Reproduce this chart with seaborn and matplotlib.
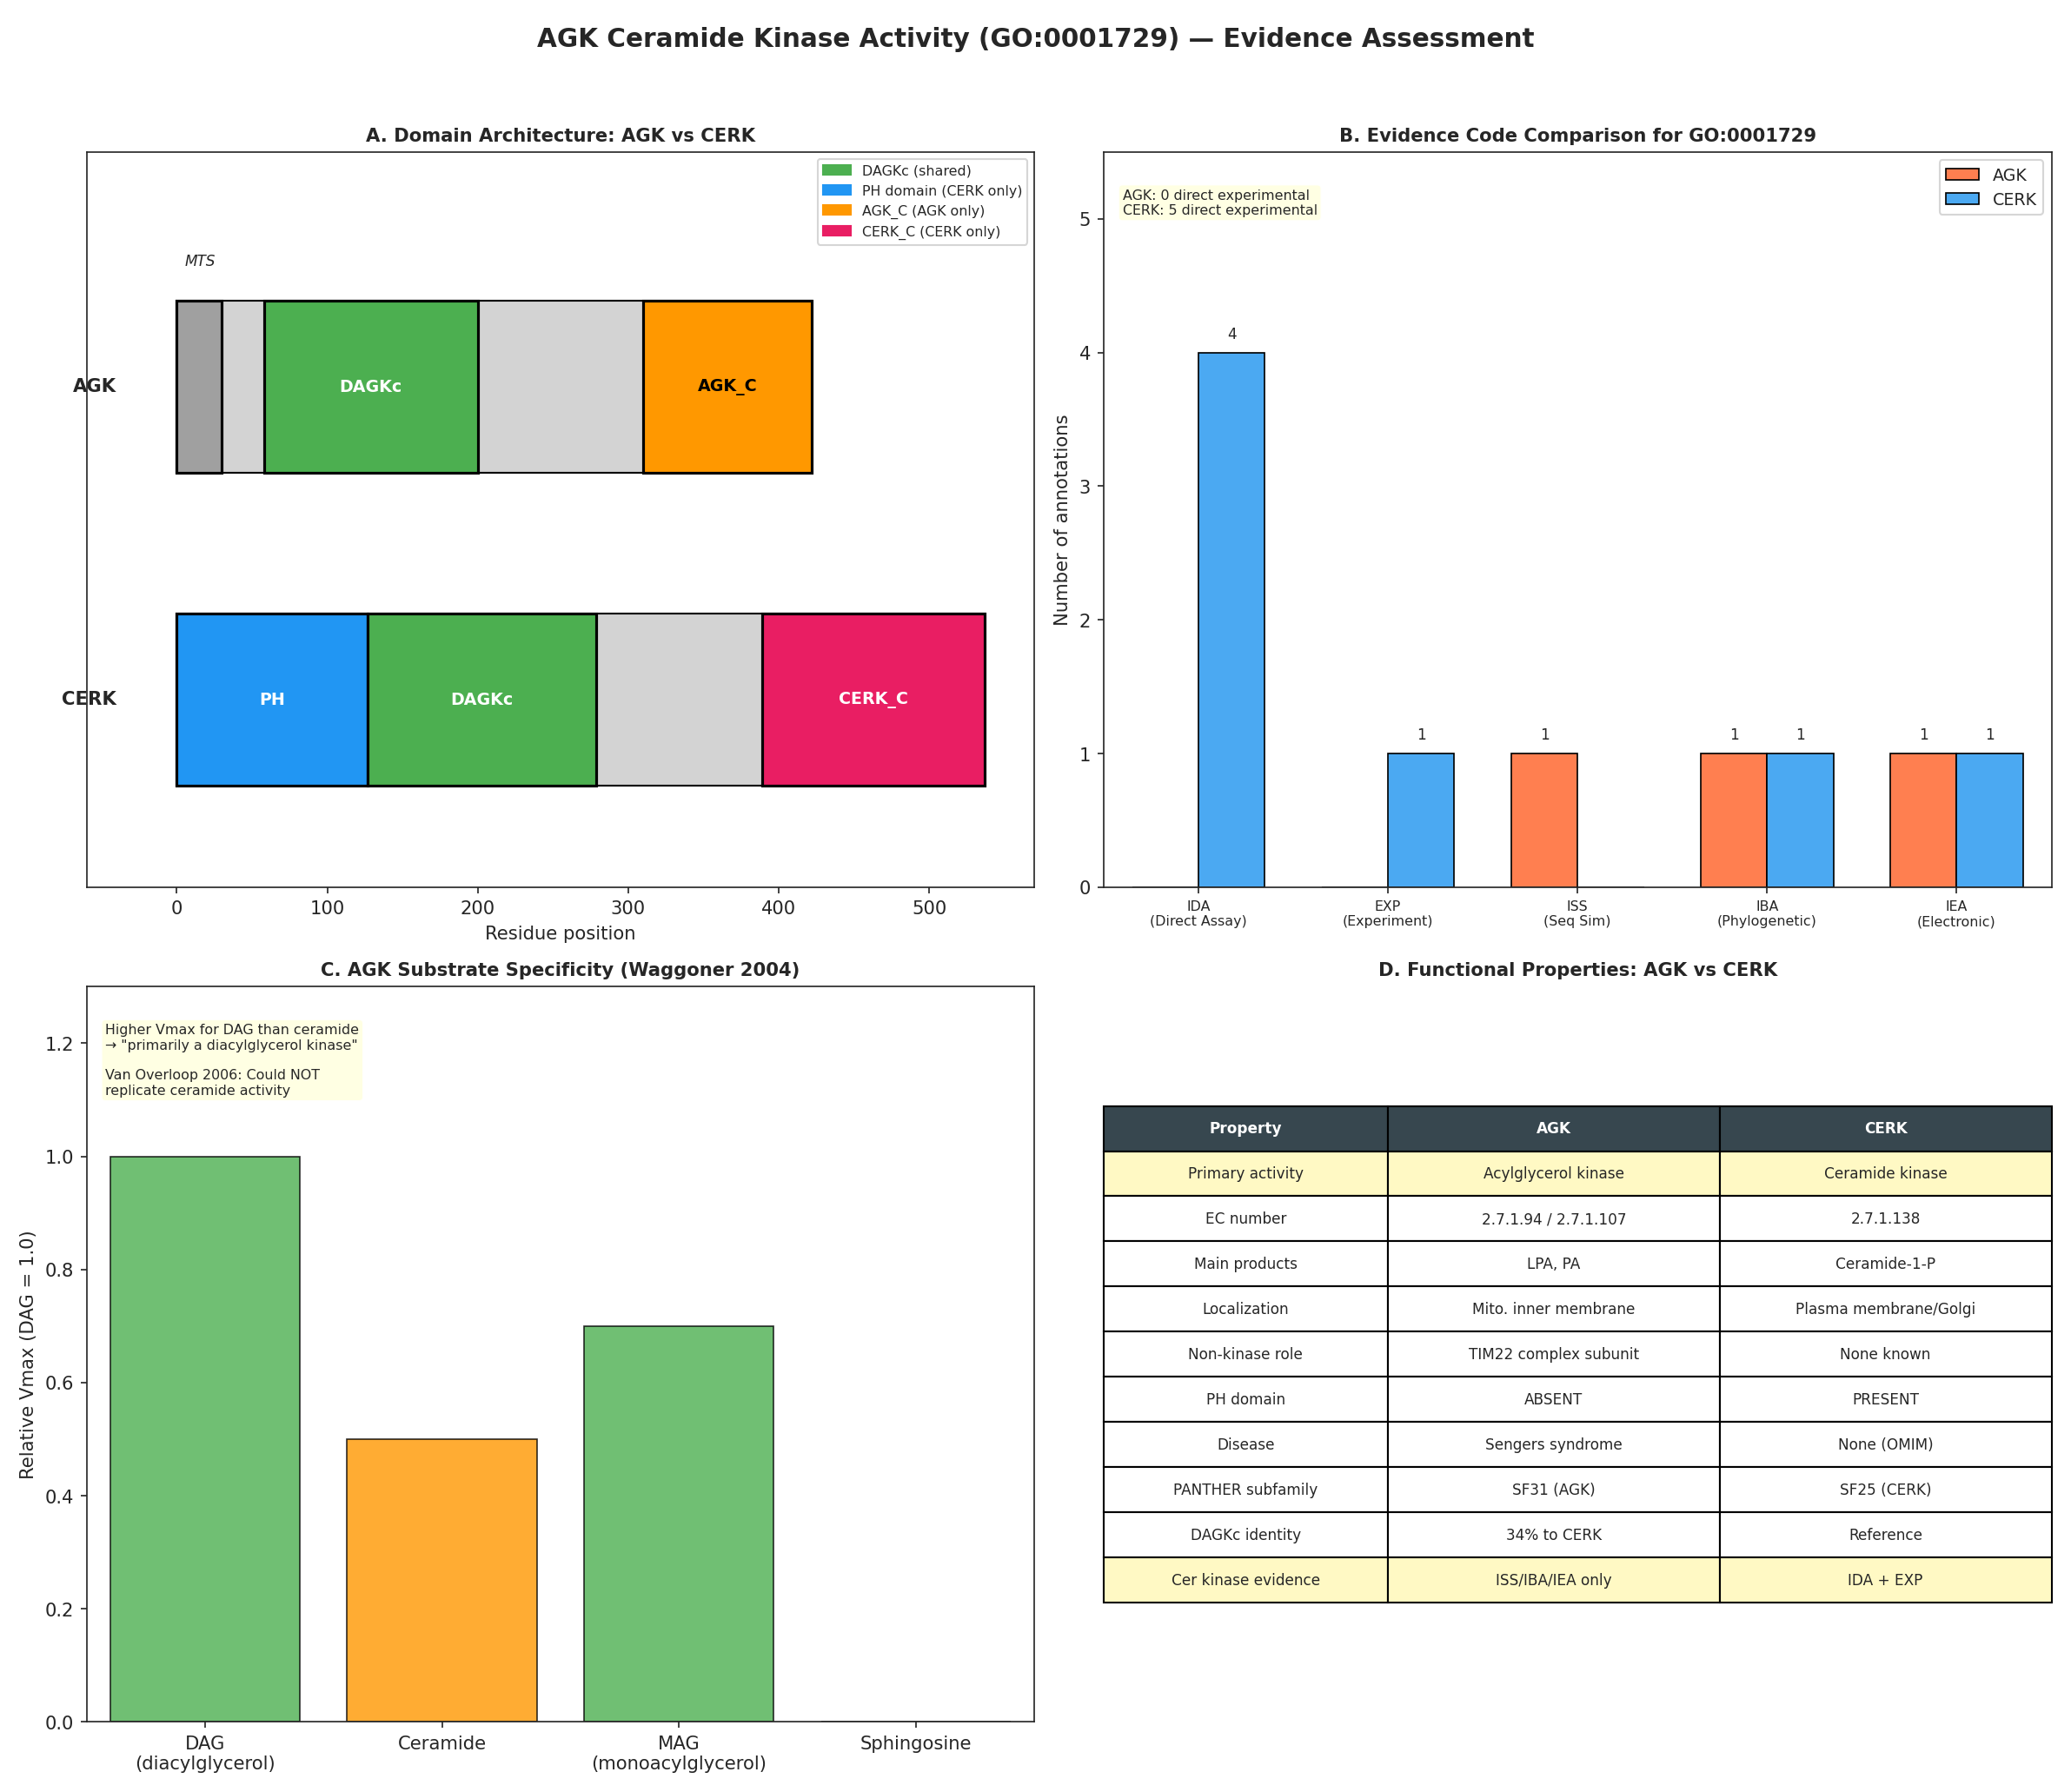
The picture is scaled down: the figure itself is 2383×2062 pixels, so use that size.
import numpy as np
import pandas as pd
import seaborn as sns
import matplotlib.pyplot as plt
from matplotlib.patches import Rectangle, Patch

# --- data ---
agk_len = 422
cerk_len = 537
agk_domains = [("MTS", 0, 30, "#A0A0A0"), ("DAGKc", 58, 200, "#4CAF50"), ("AGK_C", 310, 422, "#FF9800")]
cerk_domains = [("PH", 0, 127, "#2196F3"), ("DAGKc", 127, 279, "#4CAF50"), ("CERK_C", 389, 537, "#E91E63")]

evidence_codes = ["IDA\n(Direct Assay)", "EXP\n(Experiment)", "ISS\n(Seq Sim)", "IBA\n(Phylogenetic)", "IEA\n(Electronic)"]
agk_counts = [0, 0, 1, 1, 1]
cerk_counts = [4, 1, 0, 1, 1]

substrates = ["DAG\n(diacylglycerol)", "Ceramide", "MAG\n(monoacylglycerol)", "Sphingosine"]
rel_vmax = [1.0, 0.5, 0.7, 0.0]
sub_colors = ["#4CAF50", "#FF9800", "#4CAF50", "#9E9E9E"]

table_cols = ["Property", "AGK", "CERK"]
table_rows = [
    ["Primary activity", "Acylglycerol kinase", "Ceramide kinase"],
    ["EC number", "2.7.1.94 / 2.7.1.107", "2.7.1.138"],
    ["Main products", "LPA, PA", "Ceramide-1-P"],
    ["Localization", "Mito. inner membrane", "Plasma membrane/Golgi"],
    ["Non-kinase role", "TIM22 complex subunit", "None known"],
    ["PH domain", "ABSENT", "PRESENT"],
    ["Disease", "Sengers syndrome", "None (OMIM)"],
    ["PANTHER subfamily", "SF31 (AGK)", "SF25 (CERK)"],
    ["DAGKc identity", "34% to CERK", "Reference"],
    ["Cer kinase evidence", "ISS/IBA/IEA only", "IDA + EXP"],
]

sns.set_style("ticks")
plt.rcParams['font.family'] = ['DejaVu Sans']
fig, axes = plt.subplots(2, 2, figsize=(15.68, 13.57), dpi=152)
fig.suptitle("AGK Ceramide Kinase Activity (GO:0001729) — Evidence Assessment",
             fontsize=14, fontweight="bold", y=0.985)

# --- A ---
ax = axes[0, 0]
h = 0.55
for y, length, doms, name in [(1, agk_len, agk_domains, "AGK"), (0, cerk_len, cerk_domains, "CERK")]:
    ax.add_patch(Rectangle((0, y - h / 2), length, h, facecolor="#D3D3D3", edgecolor="black", lw=1))
    for lab, s, e, c in doms:
        ax.add_patch(Rectangle((s, y - h / 2), e - s, h, facecolor=c, edgecolor="black", lw=1.5))
        if lab == "MTS":
            ax.text(s + 5, y + h / 2 + 0.1, "MTS", fontsize=8, style="italic", va="bottom")
        else:
            tc = "black" if lab == "AGK_C" else "white"
            ax.text((s + e) / 2, y, lab, ha="center", va="center", fontsize=9, fontweight="bold", color=tc)
    ax.text(-40, y, name, ha="right", va="center", fontsize=10, fontweight="bold")
ax.set_xlim(-60, 570)
ax.set_ylim(-0.6, 1.75)
ax.set_yticks([])
ax.set_xlabel("Residue position")
ax.set_title("A. Domain Architecture: AGK vs CERK", fontsize=10, fontweight="bold")
ax.legend(handles=[Patch(color="#4CAF50", label="DAGKc (shared)"),
                   Patch(color="#2196F3", label="PH domain (CERK only)"),
                   Patch(color="#FF9800", label="AGK_C (AGK only)"),
                   Patch(color="#E91E63", label="CERK_C (CERK only)")],
          loc="upper right", fontsize=7.5)

# --- B ---
ax = axes[0, 1]
df = pd.DataFrame({"code": evidence_codes * 2,
                   "count": agk_counts + cerk_counts,
                   "gene": ["AGK"] * 5 + ["CERK"] * 5})
sns.barplot(data=df, x="code", y="count", hue="gene", palette=["#FF7F50", "#4BA9F2"],
            edgecolor="black", linewidth=0.8, width=0.7, ax=ax, saturation=1)
for cont in ax.containers:
    for bar in cont:
        v = bar.get_height()
        if v > 0:
            ax.text(bar.get_x() + bar.get_width() / 2, v + 0.08, f"{int(v)}", ha="center", va="bottom", fontsize=8)
ax.set_ylim(0, 5.5)
ax.set_xlabel("")
ax.set_ylabel("Number of annotations")
ax.tick_params(axis="x", labelsize=7.5)
ax.legend(title=None, loc="upper right", fontsize=9)
ax.set_title("B. Evidence Code Comparison for GO:0001729", fontsize=10, fontweight="bold")
ax.text(0.02, 0.95, "AGK: 0 direct experimental\nCERK: 5 direct experimental", transform=ax.transAxes,
        fontsize=7.5, va="top", bbox=dict(boxstyle="round,pad=0.3", facecolor="lightyellow", alpha=0.9))

# --- C ---
ax = axes[1, 0]
dfc = pd.DataFrame({"sub": substrates, "v": rel_vmax})
sns.barplot(data=dfc, x="sub", y="v", hue="sub", palette=sub_colors, legend=False,
            edgecolor="black", linewidth=0.8, alpha=0.8, ax=ax, saturation=1)
ax.set_ylim(0, 1.3)
ax.set_xlabel("")
ax.set_ylabel("Relative Vmax (DAG = 1.0)")
ax.set_title("C. AGK Substrate Specificity (Waggoner 2004)", fontsize=10, fontweight="bold")
ax.text(0.02, 0.95, "Higher Vmax for DAG than ceramide\n\u2192 \"primarily a diacylglycerol kinase\"\n\n"
        "Van Overloop 2006: Could NOT\nreplicate ceramide activity", transform=ax.transAxes,
        fontsize=7.5, va="top", bbox=dict(boxstyle="round,pad=0.3", facecolor="lightyellow", alpha=0.9))

# --- D ---
ax = axes[1, 1]
ax.axis("off")
ax.set_title("D. Functional Properties: AGK vs CERK", fontsize=10, fontweight="bold")
tbl = ax.table(cellText=table_rows, colLabels=table_cols, cellLoc="center", loc="center",
               colWidths=[0.3, 0.35, 0.35])
tbl.auto_set_font_size(False)
tbl.set_fontsize(8)
tbl.scale(1, 1.75)
for (r, c), cell in tbl.get_celld().items():
    if r == 0:
        cell.set_facecolor("#37474F")
        cell.set_text_props(color="white", fontweight="bold")
    elif r in (1, len(table_rows)):
        cell.set_facecolor("#FFF9C4")

plt.tight_layout(rect=[0, 0, 1, 0.965])
fig.savefig("out.png", dpi=152)
